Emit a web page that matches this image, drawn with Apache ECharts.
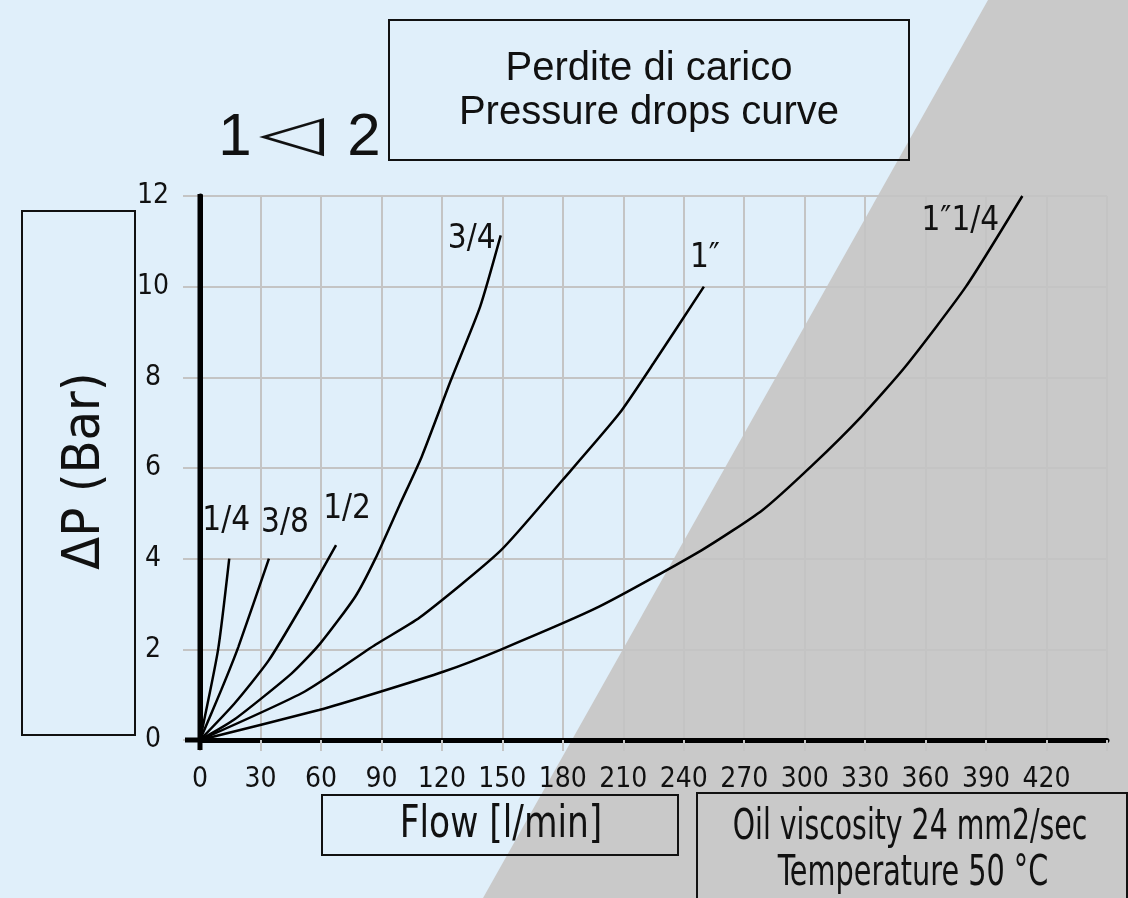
<!DOCTYPE html>
<html>
<head>
<meta charset="utf-8">
<title>Perdite di carico - Pressure drops curve</title>
<script src="https://cdn.jsdelivr.net/npm/echarts@6/dist/echarts.min.js"></script>
<style>
  html, body { margin: 0; padding: 0; background: #e0effa; }
  #chart { width: 1128px; height: 898px; }
</style>
</head>
<body>
<div id="chart"></div>
<script>
// Axis ticks (flow in l/min, pressure drop in bar)
const flowTickLabels = [0, 30, 60, 90, 120, 150, 180, 210, 240, 270, 300, 330, 360, 390, 420];
const dropTickLabels = [0, 2, 4, 6, 8, 10, 12];

// Port sizes, one curve each
const pipeSizes = ['1/4', '3/8', '1/2', '3/4', '1\u2033', '1\u20331/4'];

// [flow l/min, ΔP bar] points of each curve
const curve1_4   = [[0, 0], [9, 2], [14.5, 4]];
const curve3_8   = [[0, 0], [10.5, 1.1], [19, 2.05], [34.2, 4]];
const curve1_2   = [[0, 0], [17, 0.8], [34, 1.75], [51, 3], [67.5, 4.3]];
const curve3_4   = [[0, 0], [17, 0.45], [45.5, 1.47], [59.5, 2.12], [77, 3.16], [87, 4.0],
                    [99, 5.18], [110, 6.25], [124.5, 7.94], [139, 9.56], [149.2, 11.13]];
const curve1     = [[0, 0], [52, 1.07], [87, 2.1], [109, 2.7], [149, 4.17], [180, 5.74],
                    [208, 7.2], [225, 8.31], [250, 10]];
const curve1_1_4 = [[0, 0], [59, 0.66], [87, 1.03], [121, 1.51], [149, 1.99], [198, 2.94],
                    [249, 4.19], [279, 5.07], [304, 6.07], [328, 7.13], [350, 8.24],
                    [380, 10], [408, 12]];

const curves = [curve1_4, curve3_8, curve1_2, curve3_4, curve1, curve1_1_4];

// Where each size label sits relative to the curve's last point (px)
const labelOffsets = [[-3, -37], [16, -35], [11, -36], [-29, 4], [1, -28], [-62, 25]];

const ISO_FONT = "'Liberation Sans Narrow', 'DejaVu Sans Condensed', 'Liberation Sans', sans-serif";
const TITLE_FONT = "'Liberation Sans', Arial, sans-serif";
const GRID_COLOR = '#c4c4c4';

const chart = echarts.init(document.getElementById('chart'), null, { renderer: 'canvas' });

const series = curves.map((pts, i) => ({
  name: pipeSizes[i],
  type: 'line',
  data: pts,
  showSymbol: false,
  smooth: 0.2,
  silent: true,
  lineStyle: { color: '#000', width: 2.5 },
  z: 5,
  markPoint: {
    symbol: 'circle',
    symbolSize: 0,
    silent: true,
    data: [{
      coord: pts[pts.length - 1],
      label: {
        show: true,
        formatter: pipeSizes[i],
        offset: labelOffsets[i],
        color: '#111',
        fontFamily: ISO_FONT,
        fontSize: 33
      }
    }]
  }
}));

const boxStyle = { fill: 'none', stroke: '#111', lineWidth: 2 };

function isoText(x, y, text, size, scaleX, extra) {
  return Object.assign({
    type: 'text', x: x, y: y, scaleX: scaleX || 1, z: 20,
    style: { text: text, fontFamily: ISO_FONT, fontSize: size, fill: '#111',
             align: 'center', verticalAlign: 'middle' }
  }, extra || {});
}

const graphics = [
  // grey wedge across the right side
  { type: 'polygon', z: -10, silent: true,
    shape: { points: [[988, 0], [1128, 0], [1128, 898], [483, 898]] },
    style: { fill: '#c9c9c9' } },

  // title box
  { type: 'rect', z: 20, shape: { x: 389, y: 20, width: 520, height: 140 }, style: boxStyle },
  { type: 'text', x: 649, y: 69, z: 20,
    style: { text: 'Perdite di carico', fontFamily: TITLE_FONT, fontSize: 40, fill: '#111',
             align: 'center', verticalAlign: 'middle' } },
  { type: 'text', x: 649, y: 113, z: 20,
    style: { text: 'Pressure drops curve', fontFamily: TITLE_FONT, fontSize: 40, fill: '#111',
             align: 'center', verticalAlign: 'middle' } },

  // flow direction 1 ◁ 2
  { type: 'text', x: 235, y: 138, z: 20,
    style: { text: '1', fontFamily: TITLE_FONT, fontSize: 60, fill: '#111',
             align: 'center', verticalAlign: 'middle' } },
  { type: 'text', x: 292, y: 137, z: 20, scaleX: 1.7,
    style: { text: '\u25C1', fontFamily: "'DejaVu Sans', sans-serif", fontSize: 50, fill: '#111',
             align: 'center', verticalAlign: 'middle' } },
  { type: 'text', x: 364, y: 138, z: 20,
    style: { text: '2', fontFamily: TITLE_FONT, fontSize: 60, fill: '#111',
             align: 'center', verticalAlign: 'middle' } },

  // y axis name box
  { type: 'rect', z: 20, shape: { x: 22, y: 211, width: 113, height: 524 }, style: boxStyle },
  isoText(85, 471, '\u0394P (Bar)', 52, 1.03, { rotation: Math.PI / 2 }),

  // x axis name box
  { type: 'rect', z: 20, shape: { x: 322, y: 795, width: 356, height: 60 }, style: boxStyle },
  isoText(501, 826, 'Flow [l/min]', 44, 0.87),

  // oil conditions box
  { type: 'rect', z: 20, shape: { x: 697, y: 793, width: 430, height: 140 }, style: boxStyle },
  isoText(910, 828, 'Oil viscosity 24 mm2/sec', 42, 0.75),
  isoText(913, 874, 'Temperature 50 \u00B0C', 42, 0.76)
];

const option = {
  backgroundColor: '#e0effa',
  animation: false,
  grid: { left: 200, right: 21, top: 196, bottom: 158, containLabel: false },
  xAxis: {
    type: 'value',
    min: 0, max: 450, interval: 30,
    axisLine: { show: true, onZero: true, lineStyle: { color: '#000', width: 5 } },
    axisTick: { show: true, length: 11, lineStyle: { color: GRID_COLOR, width: 2 } },
    splitLine: { show: true, lineStyle: { color: GRID_COLOR, width: 2 } },
    axisLabel: {
      margin: 26, color: '#111', fontFamily: ISO_FONT, fontSize: 28,
      formatter: v => flowTickLabels.indexOf(v) >= 0 ? String(v) : ''
    }
  },
  yAxis: {
    type: 'value',
    min: 0, max: 12, interval: 2,
    axisLine: { show: true, onZero: true, lineStyle: { color: '#000', width: 5 } },
    axisTick: { show: true, length: 17, lineStyle: { color: GRID_COLOR, width: 2 } },
    splitLine: { show: true, lineStyle: { color: GRID_COLOR, width: 2 } },
    axisLabel: {
      margin: 47, align: 'center', color: '#111', fontFamily: ISO_FONT, fontSize: 28,
      formatter: v => dropTickLabels.indexOf(v) >= 0 ? String(v) : ''
    }
  },
  graphic: graphics,
  series: series
};

chart.setOption(option);

// Stubs that carry the two thick axes past the origin
const origin = chart.convertToPixel({ gridIndex: 0 }, [0, 0]);
const yTop = chart.convertToPixel({ gridIndex: 0 }, [0, 12]);
chart.setOption({
  graphic: graphics.concat([
    { type: 'line', z: 30, silent: true,
      shape: { x1: origin[0] - 15, y1: origin[1], x2: origin[0], y2: origin[1] },
      style: { stroke: '#000', lineWidth: 5 } },
    { type: 'line', z: 30, silent: true,
      shape: { x1: origin[0], y1: yTop[1] - 2, x2: origin[0], y2: origin[1] + 10 },
      style: { stroke: '#000', lineWidth: 5 } }
  ])
});
</script>
</body>
</html>
